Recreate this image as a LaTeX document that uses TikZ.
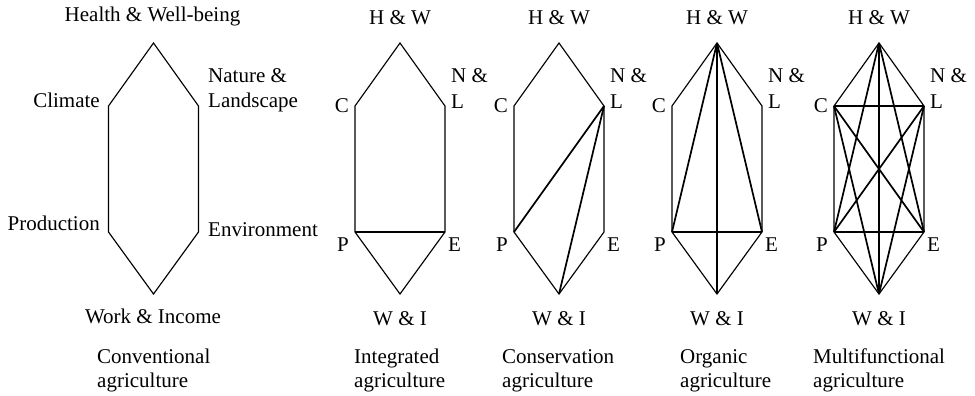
\documentclass[tikz,border=0pt]{standalone}
\usepackage{fontspec}
\setmainfont{Liberation Serif}
\newcommand\mkpanel[2]{%
  \coordinate (#1hw) at (#2,43);
  \coordinate (#1c) at (#2-45,106);
  \coordinate (#1l) at (#2+45,106);
  \coordinate (#1p) at (#2-45,232);
  \coordinate (#1e) at (#2+45,232);
  \coordinate (#1wi) at (#2,294);
  \draw[edge] (#1hw) -- (#1l) -- (#1e) -- (#1wi) -- (#1p) -- (#1c) -- cycle;
}
\newcommand\shortlabels[2]{%
  \node[lbl, anchor=base] (#1thw) at (#2,25) {H \& W};
  \node[lbl, anchor=base west] (#1tn) at (#2+51,83) {N \&};
  \node[lbl, anchor=base west] (#1tl) at (#2+51,108) {L};
  \node[lbl, anchor=base east] (#1tc) at (#2-51,113) {C};
  \node[lbl, anchor=base east] (#1tp) at (#2-51,251) {P};
  \node[lbl, anchor=base west] (#1te) at (#2+48,251) {E};
  \node[lbl, anchor=base] (#1twi) at (#2,325) {W \& I};
}
\begin{document}
\begin{tikzpicture}[x=1pt,y=-1pt,
  edge/.style={line width=1.15pt, line join=miter},
  link/.style={line width=1.7pt},
  lbl/.style={inner sep=0pt, font=\fontsize{21}{24}\selectfont},
  title/.style={lbl, align=left, anchor=north west}]
\useasboundingbox (0,0) rectangle (975,396);

% Panel 1: conventional
\mkpanel{a}{153.5}
\node[lbl, anchor=base] (ahwt) at (152.5,22) {Health \& Well-being};
\node[lbl, anchor=base east] (act) at (100,107) {Climate};
\node[lbl, anchor=base west] (ant) at (208,82) {Nature \&};
\node[lbl, anchor=base west] (alt) at (208,107) {Landscape};
\node[lbl, anchor=base east] (apt) at (100,230) {Production};
\node[lbl, anchor=base west] (aet) at (208,236) {Environment};
\node[lbl, anchor=base] (awit) at (153,323) {Work \& Income};
\node[lbl, anchor=base west] (atitle1) at (97,363) {Conventional};
\node[lbl, anchor=base west] (atitle2) at (97,387) {agriculture};

% Panel 2: integrated
\mkpanel{b}{400}
\shortlabels{b}{400}
\draw[link] (bp) -- (be);
\node[lbl, anchor=base west] (btitle1) at (354,363) {Integrated};
\node[lbl, anchor=base west] (btitle2) at (354,387) {agriculture};

% Panel 3: conservation
\mkpanel{c}{559}
\shortlabels{c}{559}
\draw[link] (cp) -- (cl);
\draw[link] (cl) -- (cwi);
\node[lbl, anchor=base west] (ctitle1) at (502,363) {Conservation};
\node[lbl, anchor=base west] (ctitle2) at (502,387) {agriculture};

% Panel 4: organic
\mkpanel{d}{717}
\shortlabels{d}{717}
\draw[link] (dhw) -- (dp);
\draw[link] (dhw) -- (de);
\draw[link] (dhw) -- (dwi);
\draw[link] (dp) -- (de);
\node[lbl, anchor=base west] (dtitle1) at (680,363) {Organic};
\node[lbl, anchor=base west] (dtitle2) at (680,387) {agriculture};

% Panel 5: multifunctional
\mkpanel{e}{879}
\shortlabels{e}{879}
\draw[link] (ehw) -- (ep);
\draw[link] (ehw) -- (ee);
\draw[link] (ehw) -- (ewi);
\draw[link] (ec) -- (el);
\draw[link] (ec) -- (ee);
\draw[link] (ec) -- (ewi);
\draw[link] (el) -- (ep);
\draw[link] (el) -- (ewi);
\draw[link] (ep) -- (ee);
\node[lbl, anchor=base west] (etitle1) at (813,363) {Multifunctional};
\node[lbl, anchor=base west] (etitle2) at (813,387) {agriculture};
\end{tikzpicture}
\end{document}
